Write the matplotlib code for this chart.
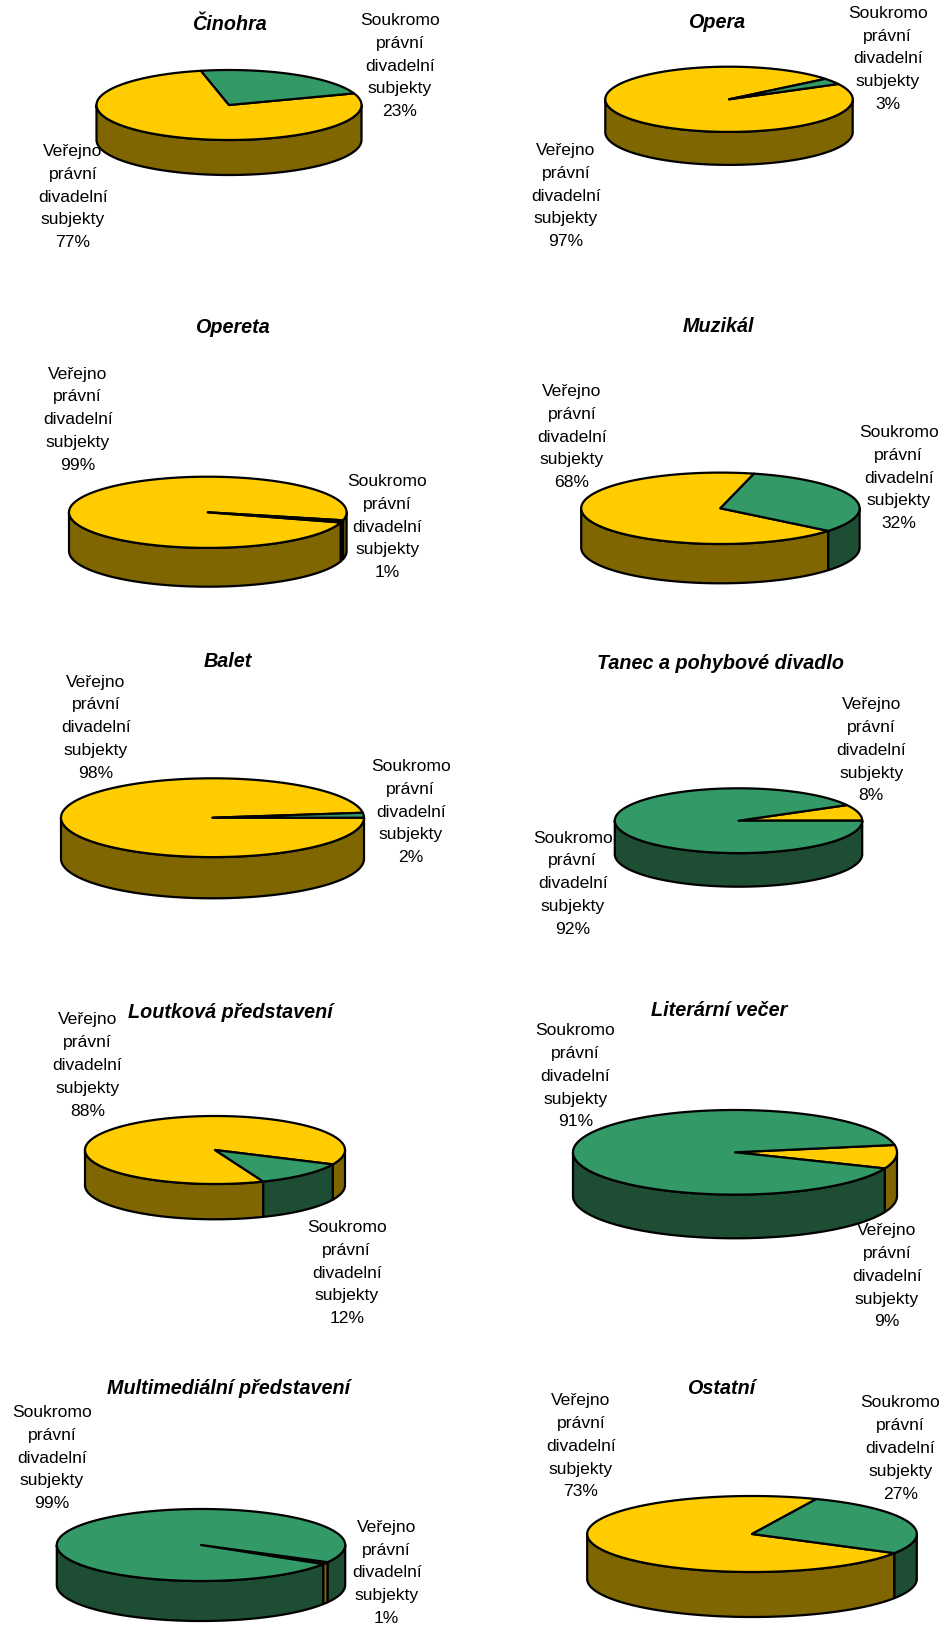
import numpy as np
import matplotlib
matplotlib.use("Agg")
import matplotlib.pyplot as plt
from matplotlib.patches import Polygon

plt.rcParams['font.family'] = ['Liberation Sans', 'DejaVu Sans']

# data
titles = ["Činohra", "Opera", "Opereta", "Muzikál", "Balet",
          "Tanec a pohybové divadlo", "Loutková představení", "Literární večer",
          "Multimediální představení", "Ostatní"]
verejno = [77, 97, 99, 68, 98, 8, 88, 9, 1, 73]
soukromo = [23, 3, 1, 32, 2, 92, 12, 91, 99, 27]
label_v = ["Veřejno", "právní", "divadelní", "subjekty"]
label_s = ["Soukromo", "právní", "divadelní", "subjekty"]

# layout (pixels of the 945x1630 picture)
pie_c = [(229, 105), (729, 99.3), (207.8, 512.3), (720.4, 508.3), (212.5, 817.7),
         (738.5, 820.7), (215, 1150), (735, 1152.3), (201, 1545), (752, 1534)]
pie_r = [(132.5, 35), (123.7, 32.6), (138.8, 35.6), (139.2, 35.7), (151.5, 39.4),
         (123.7, 32.4), (130, 34), (162, 42.3), (144.2, 36), (164.8, 38)]
depth = [35, 33, 38.8, 39.3, 41.2, 33.6, 35.3, 43.7, 40, 45]
start = [70.6, 62, 106.6, 129.2, 90, 61.2, 158.2, 80, 118.5, 120.2]   # clockwise from 12 o'clock
title_xy = [(229, 23), (717, 21), (232, 326), (718.7, 325), (228, 660),
            (720.3, 661.7), (230, 1010.7), (718.7, 1009.3), (228.5, 1387), (721.5, 1387)]
v_xy = [(73, 150), (566, 149), (77.7, 372.7), (572, 390), (96, 680.7),
        (871.3, 703.3), (87.3, 1018.3), (887, 1229.3), (386.7, 1525.7), (581, 1399.3)]
s_xy = [(400, 19), (887.7, 11.7), (387.3, 480), (898.7, 431), (410.7, 765),
        (572.7, 836.7), (346.7, 1226), (575.3, 1029.3), (52, 1411), (900.3, 1401.4)]
line_dy = 22.8

top_col = ["#FFCC00", "#339966"]
side_col = ["#806600", "#1D4D33"]


def arc(cx, cy, R, r, a1, a2, dz=0):
    n = max(2, int(abs(a2 - a1) * 2) + 2)
    t = np.radians(np.linspace(a1, a2, n))
    return np.column_stack([cx + R * np.sin(t), cy - r * np.cos(t) + dz])


fig = plt.figure(figsize=(9.45, 16.3), dpi=100)
ax = fig.add_axes([0, 0, 1, 1])
ax.set_xlim(0, 945)
ax.set_ylim(1630, 0)
ax.axis('off')

for i in range(len(titles)):
    cx, cy = pie_c[i]
    R, r = pie_r[i]
    d = depth[i]
    vals = [verejno[i], soukromo[i]]
    a = start[i]
    for j, v in enumerate(vals):
        a2 = a + v * 3.6
        # outer side band, only the front half is visible
        for k in (-1, 0, 1, 2):
            lo = max(a, 90 + 360 * k)
            hi = min(a2, 270 + 360 * k)
            if hi > lo:
                pts = np.vstack([arc(cx, cy, R, r, lo, hi),
                                 arc(cx, cy, R, r, hi, lo, d)])
                ax.add_patch(Polygon(pts, closed=True, facecolor=side_col[j],
                                     edgecolor='black', lw=1.6, joinstyle='round', zorder=2))
        pts = np.vstack([[cx, cy], arc(cx, cy, R, r, a, a2)])
        ax.add_patch(Polygon(pts, closed=True, facecolor=top_col[j],
                             edgecolor='black', lw=1.6, joinstyle='round', zorder=3))
        a = a2

    tx, ty = title_xy[i]
    ax.text(tx, ty + 7, titles[i], ha='center', va='baseline', fontsize=14.2,
            fontweight='bold', fontstyle='italic', zorder=1)

    for lab, pos, val in ((label_v, v_xy[i], verejno[i]), (label_s, s_xy[i], soukromo[i])):
        lines = lab + ["%d%%" % val]
        for n, s in enumerate(lines):
            ax.text(pos[0], pos[1] + n * line_dy + 6, s, ha='center', va='baseline',
                    fontsize=12.6, color='black', zorder=1)

plt.savefig('out.png', dpi=100, facecolor='white')
